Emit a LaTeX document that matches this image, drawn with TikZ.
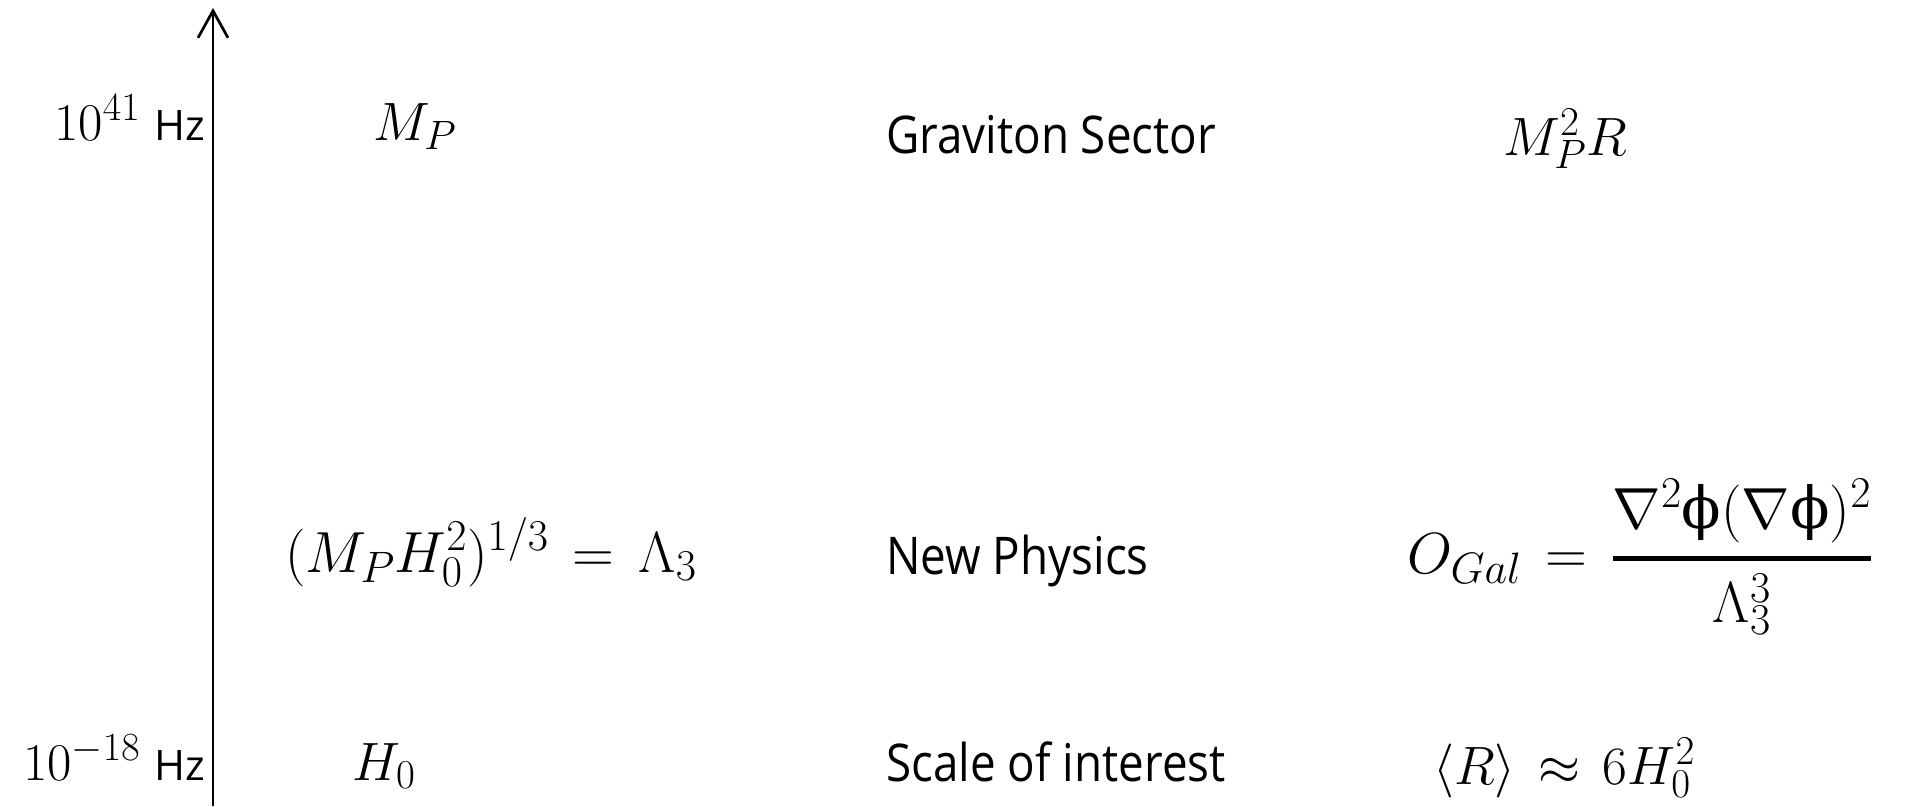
\RequirePackage{fix-cm}
\documentclass[tikz,border=0pt]{standalone}
\usepackage{amsmath}
\usepackage{fontspec}
\setmainfont[FakeStretch=0.88]{Open Sans}
\newfontfamily\hzfont{Open Sans}
\newfontfamily\phifont{DejaVu Serif}
\newcommand{\uphi}{\text{\phifont ϕ}}
\DeclareMathSizes{53}{53}{40}{31}
\DeclareMathSizes{54}{54}{41}{32}
\DeclareMathSizes{58}{58}{44}{35}
\thickmuskip=7.5mu plus 5mu
\usetikzlibrary{arrows.meta}
\tikzset{
  lbl/.style={inner sep=0pt, font=\fontsize{52}{58}\selectfont},
  mth/.style={inner sep=0pt, font=\fontsize{54}{60}\selectfont},
  bigmth/.style={inner sep=0pt, font=\fontsize{58}{64}\selectfont},
  axlbl/.style={inner sep=0pt, anchor=base east},
  axisline/.style={line width=2.7pt, -{Straight Barb[length=27pt,width=30pt,line width=2.7pt]}}
}
\newcommand{\axtext}[1]{\fontsize{53}{56}\selectfont$#1$\hspace{14pt}{\hzfont\fontsize{42}{44}\selectfont Hz}}
\begin{document}
\begin{tikzpicture}[x=1pt,y=-1pt]
\useasboundingbox (0,0) rectangle (1905,806);
\coordinate (axb) at (213,806);
\coordinate (axt) at (213,8);
\draw[axisline] (axb) -- (axt);
% axis labels
\node[axlbl] (hi) at (205,140) {\axtext{10^{41}}};
\node[axlbl] (lo) at (205,780) {\axtext{10^{-18}}};
% row 1
\node[mth, anchor=base west] (mp) at (373,140) {$M_P$};
\node[lbl, anchor=base west] (grav) at (886,153) {Graviton Sector};
\node[mth, anchor=base west] (mpr) at (1503,155) {$M_P^2R$};
% row 2
\node[bigmth, anchor=base west] (lam) at (285,572) {$(M_PH_0^2)^{1/3}=\Lambda_3$};
\node[lbl, anchor=base west] (newp) at (886,574) {New Physics};
\node[bigmth, anchor=base west] (gal) at (1407,573) {$O_{Gal}=\genfrac{}{}{4.5pt}{0}{\nabla^2\uphi(\nabla\uphi)^2}{\Lambda_3^3}$};
% row 3
\node[mth, anchor=base west] (h0) at (352,780) {$H_0$};
\node[lbl, anchor=base west] (scale) at (886,781) {Scale of interest};
\node[mth, anchor=base west] (rr) at (1433,784) {$\langle R\rangle\approx 6H_0^2$};
\end{tikzpicture}
\end{document}
